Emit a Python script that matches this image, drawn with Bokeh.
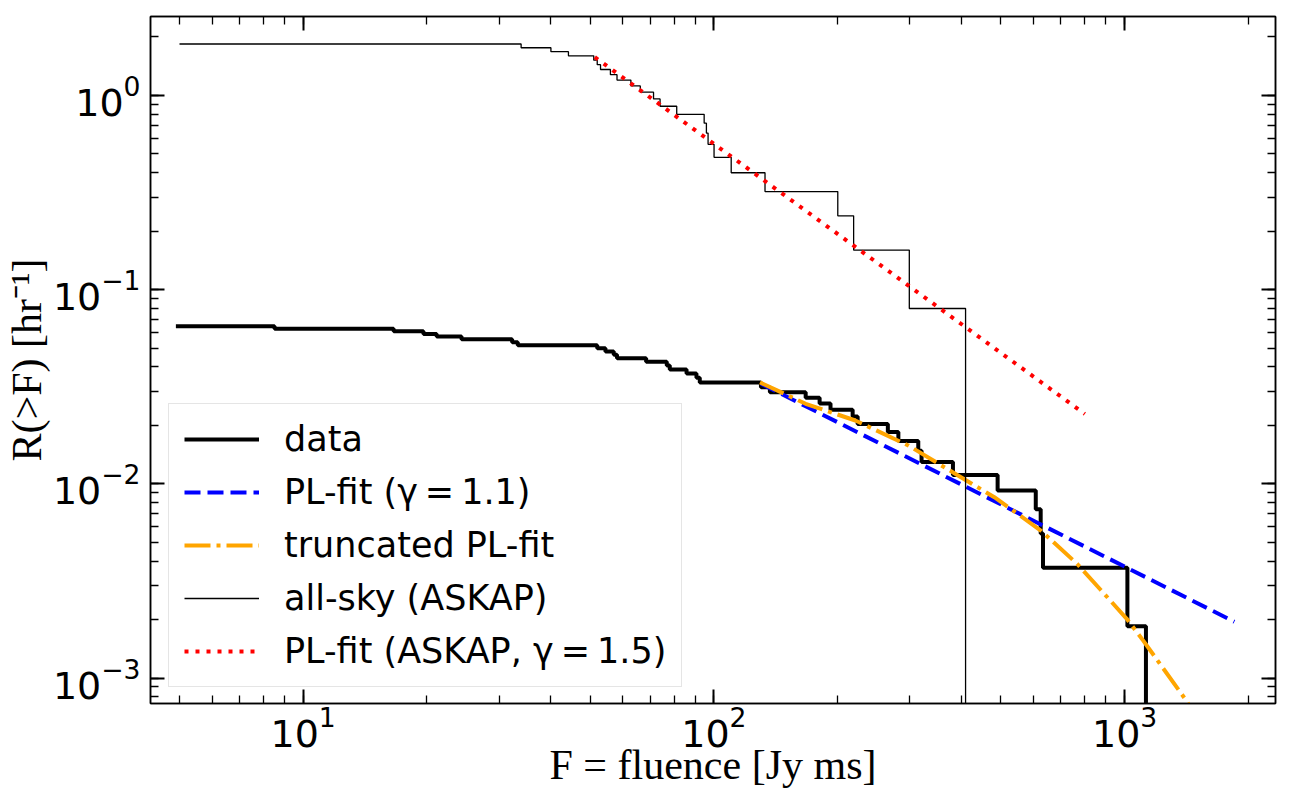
from bokeh.plotting import figure
from bokeh.models import LogAxis, LogTicker, Legend, LegendItem, Range1d
from bokeh.embed import file_html
from bokeh.resources import INLINE

# ---------------- data ----------------
# observed cumulative rate: fluence where each step occurs, and the level after it
data_F = [4.9, 8.52, 16.61, 19.63, 21.14, 24.30, 32.27, 33.31, 52.0, 54.45,
          57.05, 58.1, 68.4, 76.8, 78.1, 85.8, 90.7, 92.4, 130.2, 136.9,
          167.3, 180.9, 192.3, 217.7, 223.9, 265.2, 281.3, 314.5, 320.4, 382.0,
          490.7, 607.7, 624.7, 632.8, 1015.7, 1127.0]
data_R = [0.06475, 0.0629, 0.06105, 0.0592, 0.05735, 0.0555, 0.05365, 0.0518, 0.04995, 0.0481,
          0.04625, 0.0444, 0.04255, 0.0407, 0.03885, 0.037, 0.03515, 0.0333, 0.03145, 0.0296,
          0.02775, 0.0259, 0.02405, 0.0222, 0.02035, 0.0185, 0.01665, 0.0148, 0.01295, 0.0111,
          0.00925, 0.0074, 0.00555, 0.0037, 0.00185, 1e-6]

# all-sky (ASKAP) cumulative rate
askap_F = [5.0, 33.94, 40.11, 44.25, 51.0, 52.0, 52.97, 55.99, 58.1, 62.8,
           66.2, 71.3, 73.96, 81.2, 94.7, 95.9, 96.8, 100.1, 110.2, 133.2,
           200.3, 218.9, 299.1, 410.0]
askap_R = [1.84, 1.76, 1.68, 1.60, 1.52, 1.44, 1.36, 1.28, 1.20, 1.12,
           1.04, 0.96, 0.88, 0.80, 0.72, 0.64, 0.56, 0.48, 0.40, 0.32,
           0.24, 0.16, 0.08, 1e-6]

# power-law fit to the data (gamma = 1.1)
pl_F = [130.2, 1850.0]
pl_R = [0.0328, 0.00195]

# truncated power-law fit
tpl_F = [129.5, 167.3, 221.0, 297.4, 393.0, 481.8, 625.0, 766.0, 872.8, 1012.0, 1110.0, 1413.0, 1450.0]
tpl_R = [0.0333, 0.02585, 0.0212, 0.01577, 0.01105, 0.00854, 0.00575, 0.00388, 0.00286, 0.00202, 0.00156, 0.000766, 0.00070]

# power-law fit to ASKAP (gamma = 1.5)
apl_F = [51.3, 800.0]
apl_R = [1.575, 0.0229]

labels = ["data", "PL-fit (γ\u2009=\u20091.1)", "truncated PL-fit", "all-sky (ASKAP)",
          "PL-fit (ASKAP, γ\u2009=\u20091.5)"]

# ---------------- figure ----------------
p = figure(width=1290, height=792, x_axis_type="log", y_axis_type="log",
           x_range=Range1d(4.25, 2330), y_range=Range1d(0.00074, 2.55),
           output_backend="svg", toolbar_location=None,
           min_border_left=142, min_border_right=15, min_border_top=16, min_border_bottom=89)
p.xgrid.visible = False
p.ygrid.visible = False
p.outline_line_color = "black"
p.outline_line_width = 1.5
p.background_fill_color = "white"
p.border_fill_color = "white"

bottom_ax = p.below[0]
left_ax = p.left[0]
top_ax = LogAxis()
right_ax = LogAxis()
p.add_layout(top_ax, "above")
p.add_layout(right_ax, "right")

for ax in [bottom_ax, left_ax, top_ax, right_ax]:
    ax.ticker = LogTicker(num_minor_ticks=10)
    ax.axis_line_color = "black"
    ax.axis_line_width = 1.5
    ax.major_tick_in = 14
    ax.major_tick_out = 0
    ax.minor_tick_in = 8
    ax.minor_tick_out = 0
    ax.major_tick_line_width = 2
    ax.minor_tick_line_width = 1.3
    ax.major_tick_line_color = "black"
    ax.minor_tick_line_color = "black"
    ax.major_label_text_font = "DejaVu Sans"
    ax.major_label_text_font_size = "38px"
    ax.major_label_text_color = "black"

for ax in [top_ax, right_ax]:
    ax.major_label_text_font_size = "1px"
    ax.major_label_text_color = None
    ax.major_label_standoff = 0

bottom_ax.major_label_standoff = 2
left_ax.major_label_standoff = 10

bottom_ax.axis_label = "F = fluence [Jy ms]"
left_ax.axis_label = "R(>F) [hr⁻¹]"
for ax in [bottom_ax, left_ax]:
    ax.axis_label_text_font = "Liberation Serif"
    ax.axis_label_text_font_size = "42px"
    ax.axis_label_text_font_style = "normal"
    ax.axis_label_text_color = "black"
bottom_ax.axis_label_standoff = -8
left_ax.axis_label_standoff = 0

r_data = p.step(data_F, data_R, mode="after", line_color="black", line_width=4)
r_pl = p.line(pl_F, pl_R, line_color="blue", line_width=4, line_dash="16 7")
r_tpl = p.line(tpl_F, tpl_R, line_color="orange", line_width=4, line_dash="26 6 4 6")
r_askap = p.step(askap_F, askap_R, mode="after", line_color="black", line_width=1.3)
r_apl = p.line(apl_F, apl_R, line_color="red", line_width=4, line_dash="4 7")

legend = Legend(items=[LegendItem(label=labels[0], renderers=[r_data]),
                       LegendItem(label=labels[1], renderers=[r_pl]),
                       LegendItem(label=labels[2], renderers=[r_tpl]),
                       LegendItem(label=labels[3], renderers=[r_askap]),
                       LegendItem(label=labels[4], renderers=[r_apl])],
                location=(18, 16))
legend.label_text_font = "DejaVu Sans"
legend.label_text_font_size = "35px"
legend.label_text_color = "black"
legend.glyph_width = 75
legend.glyph_height = 30
legend.label_standoff = 25
legend.spacing = 13
legend.padding = 15
legend.margin = 0
legend.border_line_color = "#cccccc"
legend.border_line_width = 1.5
legend.background_fill_alpha = 0.8
p.add_layout(legend)

open("out.html", "w").write(file_html(p, INLINE))
